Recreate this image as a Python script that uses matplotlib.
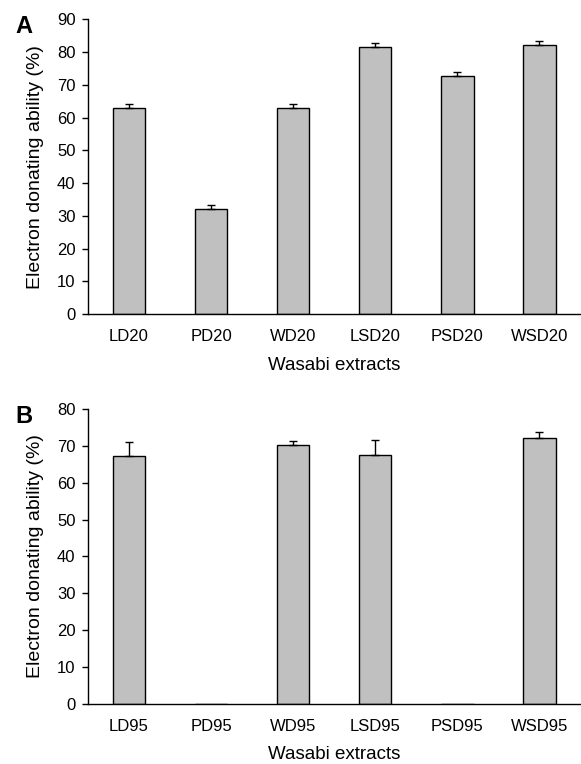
import matplotlib
matplotlib.use("Agg")
import matplotlib.pyplot as plt

# Panel A: 20% ethanol extracts
labels_a = ['LD20', 'PD20', 'WD20', 'LSD20', 'PSD20', 'WSD20']
values_a = [63.1, 32.2, 63.1, 81.7, 72.8, 82.3]
errors_a = [1.1, 1.0, 1.1, 1.1, 1.2, 1.0]

# Panel B: 95% ethanol extracts
labels_b = ['LD95', 'PD95', 'WD95', 'LSD95', 'PSD95', 'WSD95']
values_b = [67.3, 0.0, 70.3, 67.5, 0.0, 72.1]
errors_b = [3.7, 0.0, 1.1, 4.1, 0.0, 1.8]

plt.rcParams['font.family'] = ['Liberation Sans', 'DejaVu Sans']

fig = plt.figure(figsize=(5.81, 7.64), dpi=100)
ax_a = fig.add_axes([0.1515, 0.589, 0.847, 0.3855])
ax_b = fig.add_axes([0.1515, 0.079, 0.847, 0.3855])


def draw_panel(ax, labels, values, errors, ymax):
    x = range(len(labels))
    ax.bar(x, values, width=0.4, color='#c0c0c0', edgecolor='black',
           linewidth=1.0, zorder=2)
    for xi, v, e in zip(x, values, errors):
        if e > 0:
            ax.errorbar(xi, v, yerr=[[0], [e]], fmt='none', ecolor='black',
                        elinewidth=1.0, capsize=3, capthick=1.0, zorder=3)
    ax.set_xlim(-0.5, len(labels) - 0.5)
    ax.set_ylim(0, ymax)
    ax.set_yticks(range(0, ymax + 1, 10))
    ax.set_xticks(list(x))
    ax.set_xticklabels(labels)
    ax.spines['top'].set_visible(False)
    ax.spines['right'].set_visible(False)
    ax.spines['left'].set_linewidth(1.0)
    ax.spines['bottom'].set_linewidth(1.0)
    ax.tick_params(axis='y', direction='out', length=4, width=1.0,
                   labelsize=12, pad=5)
    ax.tick_params(axis='x', length=0, labelsize=12, pad=11)
    ax.set_xlabel('Wasabi extracts', fontsize=13.5, labelpad=9)
    ax.set_ylabel('Electron donating ability (%)', fontsize=14, labelpad=9)


draw_panel(ax_a, labels_a, values_a, errors_a, 90)
draw_panel(ax_b, labels_b, values_b, errors_b, 80)

fig.text(15 / 581, 1 - 15 / 764, 'A', fontsize=17, fontweight='bold',
         ha='left', va='top')
fig.text(15 / 581, 1 - 405 / 764, 'B', fontsize=17, fontweight='bold',
         ha='left', va='top')

fig.savefig('out.png', dpi=100)
